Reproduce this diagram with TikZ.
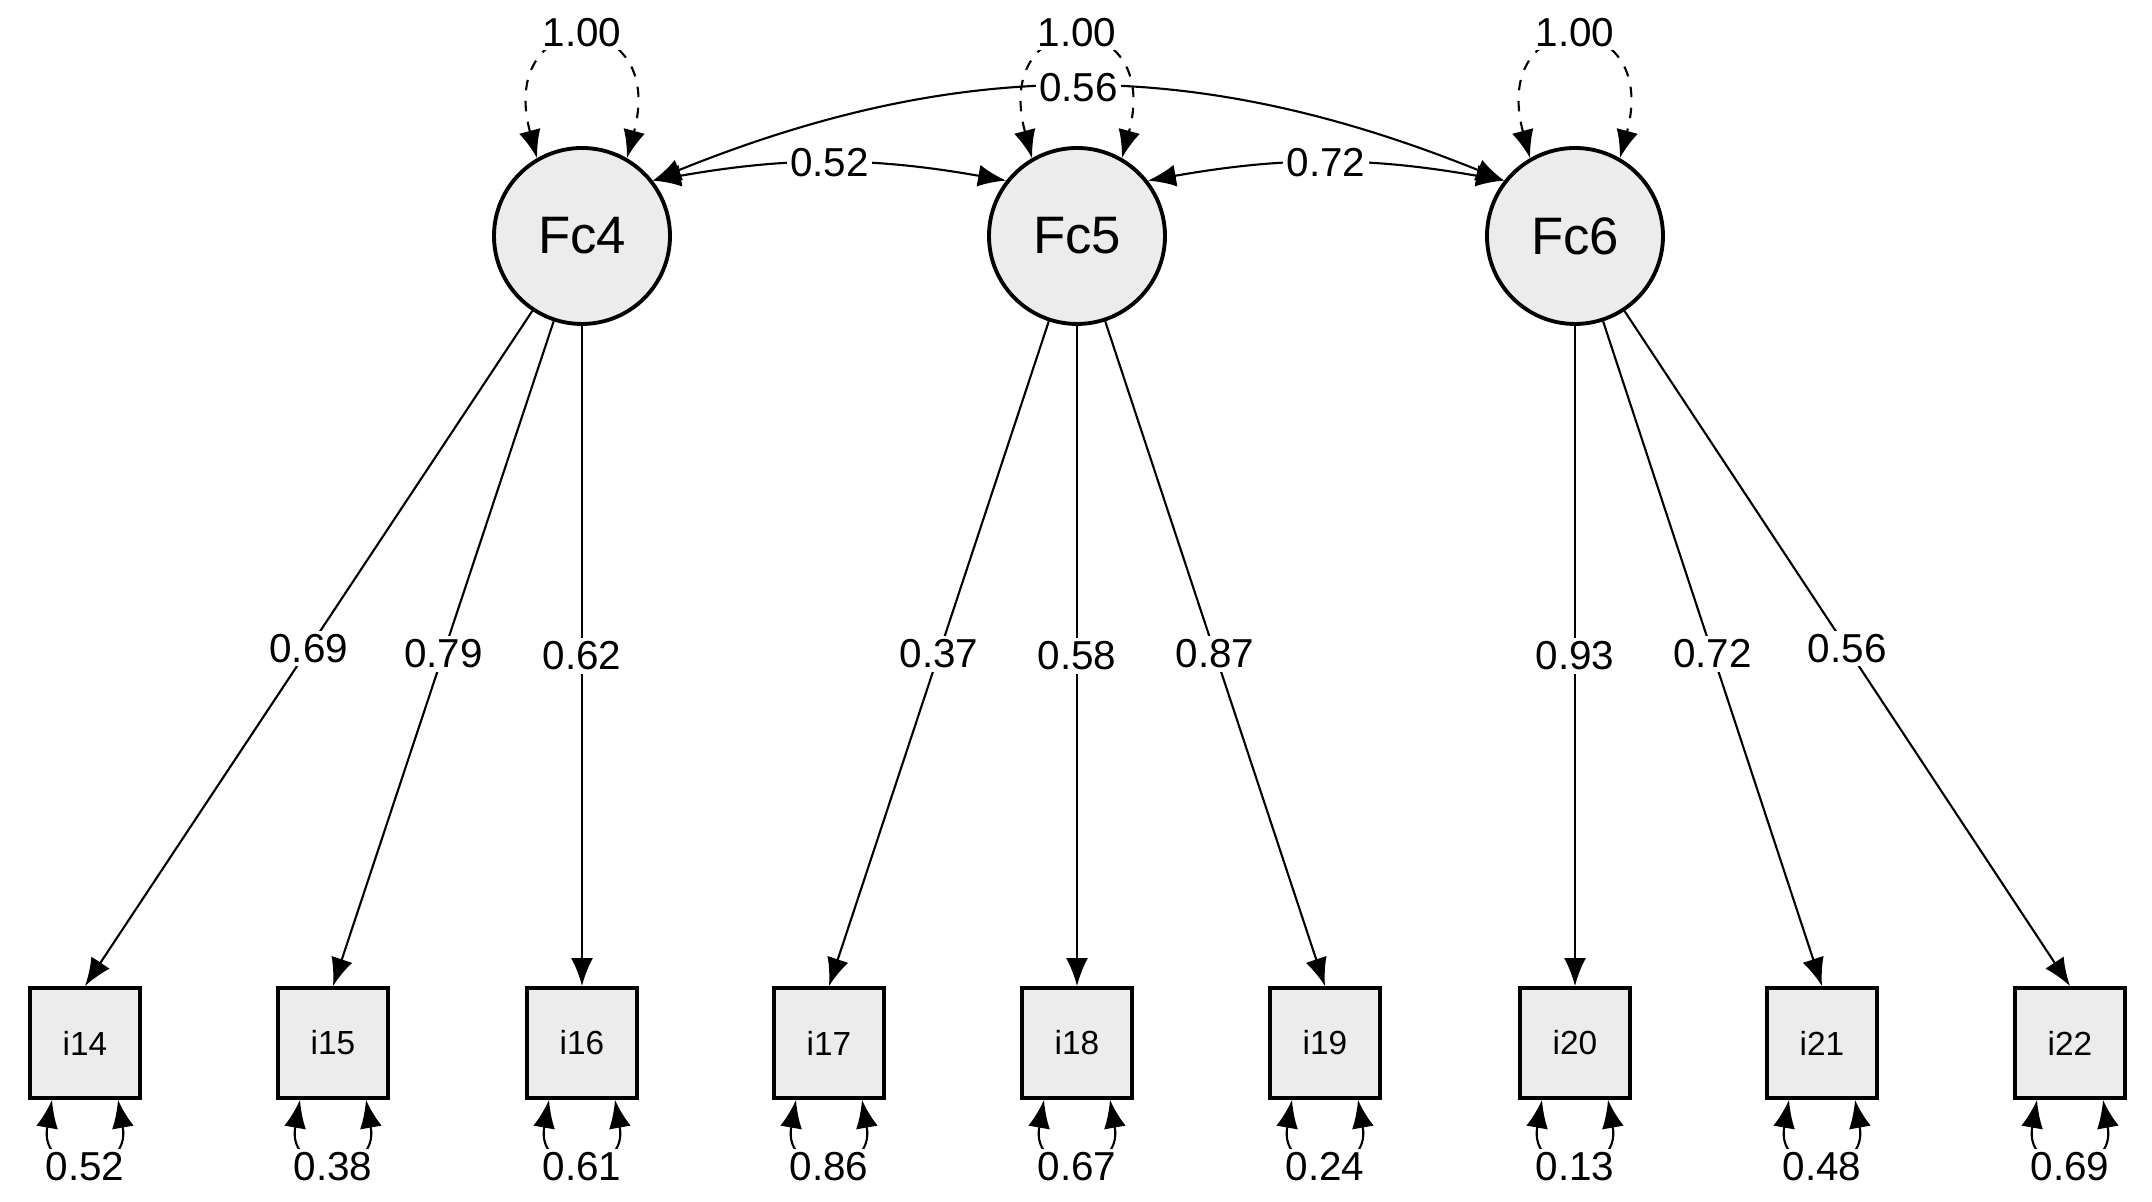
\documentclass[tikz,border=0pt]{standalone}
\usepackage{fontspec}
\setmainfont{Liberation Sans}
\usetikzlibrary{arrows.meta, positioning}

\begin{document}
\begin{tikzpicture}[
        >={Latex[width=2.2mm,length=2.8mm]},
        latent/.style={draw, circle, line width=1.1pt, fill=gray!15, minimum size=1.76cm, inner sep=0pt, font=\fontsize{15}{15}\selectfont},
        item/.style={draw, rectangle, line width=1.1pt, fill=gray!15, minimum size=1.1cm, inner sep=0pt, font=\fontsize{9.5}{10}\selectfont},
        load/.style={->, line width=0.6pt},
        cov/.style={<->, line width=0.6pt},
        val/.style={fill=white, inner sep=1pt, font=\fontsize{11.5}{12}\selectfont}
    ]
    \useasboundingbox (0,0) rectangle (21.52,12.02);

    % Factors
    \node[latent] (Fc4) at (5.82,9.66) {Fc4};
    \node[latent] (Fc5) at (10.77,9.66) {Fc5};
    \node[latent] (Fc6) at (15.75,9.66) {Fc6};

    % Items
    \node[item] (i14) at (0.85,1.59) {i14};
    \node[item] (i15) at (3.33,1.59) {i15};
    \node[item] (i16) at (5.82,1.59) {i16};
    \node[item] (i17) at (8.29,1.59) {i17};
    \node[item] (i18) at (10.77,1.59) {i18};
    \node[item] (i19) at (13.25,1.59) {i19};
    \node[item] (i20) at (15.75,1.59) {i20};
    \node[item] (i21) at (18.22,1.59) {i21};
    \node[item] (i22) at (20.70,1.59) {i22};

    % Loadings
    \draw[load] (Fc4) -- node[val] {0.69} (i14.north);
    \draw[load] (Fc4) -- node[val] {0.79} (i15.north);
    \draw[load] (Fc4) -- node[val] {0.62} (i16.north);
    \draw[load] (Fc5) -- node[val] {0.37} (i17.north);
    \draw[load] (Fc5) -- node[val] {0.58} (i18.north);
    \draw[load] (Fc5) -- node[val] {0.87} (i19.north);
    \draw[load] (Fc6) -- node[val] {0.93} (i20.north);
    \draw[load] (Fc6) -- node[val] {0.72} (i21.north);
    \draw[load] (Fc6) -- node[val] {0.56} (i22.north);

    % Factor variances
    \foreach \f in {Fc4, Fc5, Fc6}
        \draw[cov, dashed] (\f.120) .. controls +(105:1.6) and +(75:1.6) .. node[val, pos=0.5, yshift=1mm] {1.00} (\f.60);

    % Covariances
    \draw[cov] (Fc4.38) to[bend left=10] node[val] {0.52} (Fc5.142);
    \draw[cov] (Fc5.38) to[bend left=10] node[val] {0.72} (Fc6.142);
    \draw[cov] (Fc4.38) to[bend left=22] node[val, pos=0.5] {0.56} (Fc6.142);

    % Residual variances
    \foreach \i/\v in {i14/0.52, i15/0.38, i16/0.61, i17/0.86, i18/0.67, i19/0.24, i20/0.13, i21/0.48, i22/0.69}
        \draw[cov] ([xshift=-3.3mm]\i.south) .. controls +(-100:0.8) and +(-80:0.8) .. node[val, pos=0.5, yshift=-0.8mm] {\v} ([xshift=3.3mm]\i.south);

\end{tikzpicture}
\end{document}
